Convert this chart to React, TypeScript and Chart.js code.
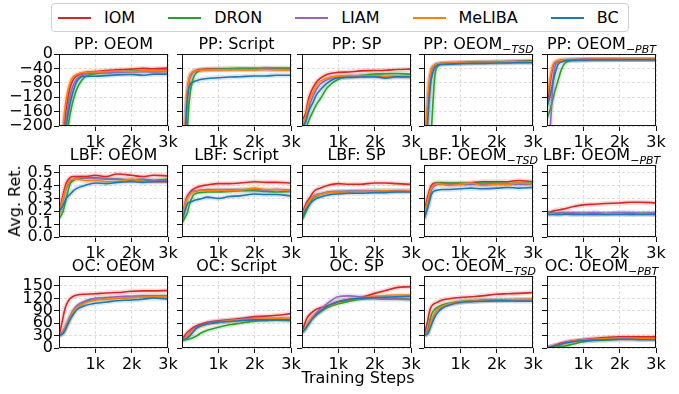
import React, { useEffect, useRef } from "react";
import { Chart, registerables } from "chart.js";
Chart.register(...registerables);

// ---------- data ----------
const steps = [0, 100, 150, 200, 300, 400, 500, 700, 1000, 1300, 1600, 2000, 2300, 2600, 3000];
const methods = ["IOM", "DRON", "LIAM", "MeLIBA", "BC"];
const colors = ["#d62728", "#2ca02c", "#9467bd", "#ff7f0e", "#1f77b4"];
const bandColors = ["rgba(214,39,40,0.17)", "rgba(44,160,44,0.17)", "rgba(148,103,189,0.17)", "rgba(255,127,14,0.17)", "rgba(31,119,180,0.17)"];
const envNames = ["PP", "LBF", "OC"];
const colNames = ["OEOM", "Script", "SP", "OEOM", "OEOM"];
const colSubs = ["", "", "", "TSD", "PBT"];
const xTicks = [1000, 2000, 3000];
const ppTicks = [-200, -160, -120, -80, -40, 0];
const lbfTicks = [0, 0.1, 0.2, 0.3, 0.4, 0.5];
const ocTicks = [0, 30, 60, 90, 120, 150];
const yRanges = [[-200, 0], [0, 0.56], [0, 174]];

// series order in each panel: IOM, DRON, LIAM, MeLIBA, BC
const ppOeom = [
  [-330, -235, -190, -150, -95, -70, -60, -52, -49, -46, -44, -42, -40, -41, -39],
  [-380, -320, -280, -240, -170, -125, -95, -65, -55, -52, -50, -48, -47, -45, -44],
  [-340, -265, -215, -180, -120, -84, -68, -56, -53, -52, -51, -50, -49, -50, -49],
  [-330, -215, -165, -125, -80, -62, -56, -51, -50, -49, -47, -49, -47, -46, -47],
  [-360, -290, -240, -200, -140, -100, -75, -62, -62, -60, -58, -57, -59, -56, -56],
];
const ppScript = [
  [-330, -190, -110, -70, -50, -45, -43, -42, -42, -41, -41, -42, -41, -42, -42],
  [-420, -300, -205, -130, -70, -52, -46, -43, -42, -41, -40, -40, -39, -39, -39],
  [-330, -195, -115, -72, -52, -47, -45, -44, -43, -43, -43, -43, -42, -43, -43],
  [-320, -180, -100, -65, -50, -46, -45, -44, -44, -44, -44, -44, -43, -44, -45],
  [-340, -200, -120, -90, -78, -74, -71, -68, -66, -64, -63, -61, -61, -59, -59],
];
const ppSp = [
  [-183, -165, -140, -118, -94, -78, -68, -56, -51, -50, -47, -46, -45, -43, -42],
  [-215, -205, -195, -182, -160, -140, -125, -93, -70, -63, -60, -56, -55, -54, -56],
  [-200, -185, -165, -145, -118, -98, -84, -71, -64, -63, -62, -63, -64, -64, -65],
  [-195, -175, -150, -130, -108, -88, -77, -66, -61, -60, -61, -60, -62, -61, -63],
  [-200, -190, -170, -155, -135, -113, -100, -80, -66, -65, -64, -63, -67, -63, -63],
];
const ppTsd = [
  [-300, -150, -80, -48, -31, -27, -26, -25, -24, -23, -23, -22, -21, -20, -19],
  [-450, -330, -290, -215, -60, -32, -27, -26, -25, -24, -23, -22, -22, -21, -20],
  [-300, -155, -85, -50, -32, -28, -27, -26, -25, -24, -24, -23, -23, -22, -22],
  [-280, -130, -70, -42, -30, -27, -26, -25, -25, -24, -23, -23, -22, -22, -22],
  [-330, -190, -115, -70, -38, -30, -29, -28, -27, -26, -26, -25, -25, -24, -24],
];
const ppPbt = [
  [-146, -70, -40, -26, -19, -17, -16, -16, -15, -15, -15, -15, -15, -15, -15],
  [-179, -150, -130, -110, -75, -42, -25, -18, -17, -16, -16, -15, -15, -15, -15],
  [-300, -190, -100, -45, -22, -18, -17, -16, -16, -15, -15, -15, -15, -15, -15],
  [-119, -60, -35, -24, -19, -17, -17, -16, -16, -15, -15, -15, -15, -15, -15],
  [-146, -110, -85, -62, -30, -22, -19, -17, -17, -16, -16, -16, -16, -16, -16],
];
const lbfOeom = [
  [0.19, 0.31, 0.37, 0.42, 0.46, 0.47, 0.47, 0.47, 0.48, 0.47, 0.49, 0.48, 0.47, 0.48, 0.475],
  [0.14, 0.19, 0.24, 0.3, 0.41, 0.44, 0.455, 0.46, 0.46, 0.455, 0.45, 0.44, 0.445, 0.44, 0.45],
  [0.17, 0.28, 0.33, 0.38, 0.43, 0.45, 0.46, 0.46, 0.455, 0.45, 0.45, 0.445, 0.45, 0.44, 0.44],
  [0.17, 0.29, 0.34, 0.39, 0.44, 0.45, 0.45, 0.44, 0.44, 0.43, 0.43, 0.45, 0.43, 0.43, 0.43],
  [0.2, 0.24, 0.27, 0.3, 0.33, 0.36, 0.38, 0.4, 0.42, 0.415, 0.425, 0.43, 0.425, 0.43, 0.43],
];
const lbfScript = [
  [0.14, 0.28, 0.32, 0.34, 0.37, 0.385, 0.395, 0.405, 0.415, 0.415, 0.42, 0.43, 0.425, 0.425, 0.42],
  [0.11, 0.16, 0.19, 0.25, 0.32, 0.34, 0.345, 0.35, 0.35, 0.355, 0.36, 0.36, 0.355, 0.35, 0.355],
  [0.15, 0.27, 0.31, 0.33, 0.355, 0.36, 0.365, 0.37, 0.37, 0.37, 0.37, 0.37, 0.365, 0.37, 0.365],
  [0.15, 0.27, 0.3, 0.32, 0.35, 0.355, 0.36, 0.36, 0.365, 0.36, 0.365, 0.38, 0.37, 0.37, 0.36],
  [0.13, 0.22, 0.26, 0.27, 0.28, 0.29, 0.295, 0.31, 0.3, 0.315, 0.32, 0.335, 0.33, 0.33, 0.32],
];
const lbfSp = [
  [0.18, 0.25, 0.28, 0.3, 0.345, 0.37, 0.38, 0.4, 0.415, 0.41, 0.41, 0.42, 0.42, 0.415, 0.41],
  [0.13, 0.19, 0.22, 0.25, 0.3, 0.32, 0.33, 0.345, 0.35, 0.355, 0.355, 0.36, 0.36, 0.36, 0.36],
  [0.16, 0.23, 0.26, 0.285, 0.315, 0.33, 0.335, 0.35, 0.355, 0.355, 0.36, 0.36, 0.355, 0.36, 0.36],
  [0.16, 0.23, 0.26, 0.28, 0.31, 0.325, 0.33, 0.345, 0.35, 0.35, 0.355, 0.355, 0.36, 0.355, 0.36],
  [0.15, 0.21, 0.23, 0.25, 0.28, 0.3, 0.31, 0.325, 0.335, 0.34, 0.34, 0.345, 0.345, 0.35, 0.35],
];
const lbfTsd = [
  [0.19, 0.31, 0.36, 0.4, 0.42, 0.42, 0.42, 0.415, 0.415, 0.42, 0.43, 0.43, 0.43, 0.44, 0.43],
  [0.14, 0.23, 0.3, 0.37, 0.41, 0.42, 0.42, 0.42, 0.42, 0.415, 0.42, 0.42, 0.415, 0.42, 0.415],
  [0.16, 0.27, 0.33, 0.37, 0.4, 0.41, 0.41, 0.41, 0.41, 0.41, 0.41, 0.415, 0.41, 0.41, 0.41],
  [0.17, 0.28, 0.34, 0.38, 0.41, 0.415, 0.41, 0.4, 0.41, 0.42, 0.4, 0.41, 0.41, 0.42, 0.41],
  [0.14, 0.23, 0.28, 0.33, 0.36, 0.365, 0.37, 0.37, 0.375, 0.38, 0.375, 0.38, 0.385, 0.38, 0.385],
];
const lbfPbt = [
  [0.19, 0.195, 0.2, 0.205, 0.21, 0.215, 0.22, 0.235, 0.25, 0.255, 0.26, 0.265, 0.27, 0.27, 0.265],
  [0.185, 0.185, 0.185, 0.185, 0.185, 0.18, 0.185, 0.185, 0.185, 0.185, 0.18, 0.185, 0.185, 0.185, 0.185],
  [0.185, 0.185, 0.19, 0.185, 0.185, 0.19, 0.185, 0.19, 0.185, 0.19, 0.185, 0.19, 0.19, 0.185, 0.19],
  [0.18, 0.18, 0.18, 0.18, 0.175, 0.18, 0.18, 0.175, 0.18, 0.175, 0.18, 0.18, 0.175, 0.18, 0.175],
  [0.175, 0.175, 0.175, 0.175, 0.175, 0.175, 0.18, 0.175, 0.175, 0.175, 0.175, 0.175, 0.175, 0.175, 0.175],
];
const ocOeom = [
  [30, 68, 90, 104, 119, 125, 128, 130, 131, 133, 134, 137, 138, 138, 139],
  [30, 36, 43, 52, 72, 88, 99, 110, 117, 119, 121, 122, 124, 124, 125],
  [30, 39, 46, 55, 76, 92, 103, 113, 120, 122, 124, 125, 126, 126, 126],
  [30, 36, 43, 52, 72, 88, 98, 108, 116, 118, 120, 122, 123, 124, 124],
  [30, 34, 40, 50, 68, 82, 93, 102, 108, 111, 114, 116, 118, 121, 118],
];
const ocScript = [
  [19.5, 33, 38, 42, 49, 54, 57, 62, 66, 68, 71, 76, 77, 79, 83],
  [19.5, 20, 21, 22, 25, 29, 35, 43, 50, 56, 60, 65, 66, 67, 66],
  [20, 26, 30, 35, 44, 50, 54, 60, 64, 67, 69, 72, 71, 72, 72],
  [20, 25, 29, 33, 42, 48, 52, 58, 62, 66, 68, 70, 70, 71, 71],
  [19.5, 22, 25, 28, 38, 48, 53, 58, 62, 64, 66, 68, 68, 68, 68],
];
const ocSp = [
  [39, 65, 74, 80, 88, 94, 97, 102, 112, 117, 121, 132, 139, 146, 148],
  [38, 48, 55, 62, 73, 80, 87, 98, 107, 113, 118, 120, 120, 120, 118],
  [38, 48, 55, 63, 75, 85, 93, 108, 124, 126, 124, 120, 118, 118, 117],
  [38, 50, 57, 65, 76, 82, 88, 100, 110, 116, 120, 125, 127, 128, 128],
  [38, 47, 54, 60, 72, 82, 88, 101, 112, 117, 120, 122, 123, 124, 125],
];
const ocTsd = [
  [31, 65, 88, 100, 108, 112, 116, 119, 122, 124, 126, 130, 131, 132, 134],
  [31, 42, 62, 80, 94, 100, 104, 108, 112, 114, 115, 116, 116, 117, 117],
  [31, 37, 50, 64, 84, 94, 100, 106, 111, 113, 115, 116, 116, 116, 117],
  [31, 37, 50, 65, 85, 95, 100, 106, 111, 113, 114, 115, 116, 117, 118],
  [31, 34, 44, 55, 75, 88, 96, 104, 110, 112, 113, 114, 114, 113, 113],
];
const ocPbt = [
  [0, 3, 4.5, 6, 9, 12, 14, 17, 20, 23, 25, 27, 27, 27, 27],
  [0, 1, 1.5, 2, 3, 4, 5, 9, 15, 18, 19, 21, 21, 22, 22],
  [0, 2.5, 3.5, 5, 7.5, 10, 13, 16, 19, 21, 22, 23, 23, 22, 22],
  [0, 2.5, 3.5, 5, 7, 9.5, 12, 16, 19, 21, 23, 24, 24, 23, 23],
  [0, 2.5, 3.5, 5, 7, 9.5, 12, 15, 18, 19, 20, 21, 21, 20, 20],
];

const panels = [
  [ppOeom, ppScript, ppSp, ppTsd, ppPbt],
  [lbfOeom, lbfScript, lbfSp, lbfTsd, lbfPbt],
  [ocOeom, ocScript, ocSp, ocTsd, ocPbt],
];
const rowTicks = [ppTicks, lbfTicks, ocTicks];
const rowFormat = [
  (v: number) => String(v).replace("-", "\u2212"),
  (v: number) => v.toFixed(1),
  (v: number) => String(v),
];

// ---------- layout ----------
const plotLefts = [59, 182, 302, 424, 547];
const plotTops = [54, 165, 276];
const PW = 109;
const PH = 72;
const YW = 56;
const PADT = 10;
const PADR = 14;
const XH = 28;
const FONT = "'DejaVu Sans', sans-serif";

Chart.defaults.font.family = FONT;
Chart.defaults.font.size = 16;
Chart.defaults.color = "#000";

const framePlugin = {
  id: "frame",
  afterDatasetsDraw(chart: any) {
    const { ctx, chartArea } = chart;
    ctx.save();
    ctx.strokeStyle = "#111";
    ctx.lineWidth = 1;
    ctx.setLineDash([]);
    ctx.strokeRect(
      Math.round(chartArea.left) + 0.5,
      Math.round(chartArea.top) + 0.5,
      Math.round(chartArea.right - chartArea.left) - 1,
      Math.round(chartArea.bottom - chartArea.top) - 1
    );
    ctx.restore();
  },
};

function gridOpts() {
  return {
    color: "#d6d6d6",
    lineWidth: 0.8,
    borderDash: [3, 2],
    tickColor: "#111",
    tickLength: 5,
    tickWidth: 1,
    tickBorderDash: [],
  };
}

function Panel({ row, col }: { row: number; col: number }) {
  const ref = useRef<HTMLCanvasElement>(null);
  useEffect(() => {
    const series = panels[row][col];
    const datasets: any[] = [];
    series.forEach((vals, i) => {
      const pts = steps.map((x, k) => ({ x, y: vals[k] }));
      datasets.push({
        label: methods[i] + " band",
        data: pts,
        borderColor: bandColors[i],
        borderWidth: 5,
        pointRadius: 0,
        cubicInterpolationMode: "monotone",
        clip: 0,
        order: 14 - i,
      });
      datasets.push({
        label: methods[i],
        data: pts,
        borderColor: colors[i],
        borderWidth: 1.6,
        pointRadius: 0,
        cubicInterpolationMode: "monotone",
        clip: 0,
        order: 4 - i,
      });
    });
    const ticks = rowTicks[row];
    const fmt = rowFormat[row];
    const chart = new Chart(ref.current as HTMLCanvasElement, {
      type: "line",
      data: { datasets },
      plugins: [framePlugin],
      options: {
        animation: false,
        responsive: false,
        events: [],
        layout: { padding: { left: 0, top: PADT, right: PADR, bottom: 0 } },
        plugins: { legend: { display: false }, tooltip: { enabled: false }, title: { display: false } },
        scales: {
          x: {
            type: "linear",
            min: 0,
            max: 3000,
            afterBuildTicks: (s: any) => {
              s.ticks = xTicks.map((v) => ({ value: v }));
            },
            afterFit: (s: any) => {
              s.height = XH;
              s.paddingLeft = 0;
              s.paddingRight = 0;
            },
            ticks: {
              autoSkip: false,
              maxRotation: 0,
              minRotation: 0,
              padding: 2,
              color: "#000",
              font: { size: 16, family: FONT },
              callback: (v: any) => Number(v) / 1000 + "k",
            },
            grid: gridOpts(),
            border: { display: false, dash: [3, 2] },
          },
          y: {
            type: "linear",
            min: yRanges[row][0],
            max: yRanges[row][1],
            afterBuildTicks: (s: any) => {
              s.ticks = ticks.map((v) => ({ value: v }));
            },
            afterFit: (s: any) => {
              s.width = YW;
              s.paddingTop = 0;
              s.paddingBottom = 0;
            },
            ticks: {
              display: col === 0,
              autoSkip: false,
              padding: 1,
              color: "#000",
              font: { size: 16, family: FONT },
              callback: (v: any) => fmt(Number(v)),
            },
            grid: gridOpts(),
            border: { display: false, dash: [3, 2] },
          },
        },
      } as any,
    });
    return () => chart.destroy();
  }, [row, col]);
  const w = YW + PW + PADR;
  const h = PADT + PH + XH;
  return (
    <canvas
      ref={ref}
      width={w}
      height={h}
      style={{ position: "absolute", left: plotLefts[col] - YW, top: plotTops[row] - PADT, width: w, height: h }}
    />
  );
}

function Title({ row, col }: { row: number; col: number }) {
  return (
    <div
      style={{
        position: "absolute",
        left: plotLefts[col] - 30,
        width: PW + 60,
        top: plotTops[row] - 18,
        lineHeight: "16px",
        fontSize: 16,
        textAlign: "center",
        whiteSpace: "nowrap",
      }}
    >
      {envNames[row]}: {colNames[col]}
      {colSubs[col] ? (
        <span style={{ fontSize: 11, position: "relative", top: 4 }}>
          {"\u2212"}
          <i>{colSubs[col]}</i>
        </span>
      ) : null}
    </div>
  );
}

export default function App() {
  const cells: React.ReactNode[] = [];
  for (let r = 0; r < 3; r++) {
    for (let c = 0; c < 5; c++) {
      cells.push(<Panel key={`p${r}${c}`} row={r} col={c} />);
      cells.push(<Title key={`t${r}${c}`} row={r} col={c} />);
    }
  }
  return (
    <div
      style={{
        position: "absolute",
        left: 0,
        top: 0,
        width: 679,
        height: 394,
        background: "#fff",
        fontFamily: FONT,
        color: "#000",
        overflow: "hidden",
      }}
    >
      <div
        style={{
          position: "absolute",
          left: 51,
          top: 3,
          width: 578,
          height: 29,
          border: "1px solid #d0d0d0",
          borderRadius: 4,
          boxSizing: "border-box",
          display: "flex",
          alignItems: "center",
          paddingLeft: 6,
          fontSize: 16,
          whiteSpace: "nowrap",
        }}
      >
        {methods.map((m, i) => (
          <div key={m} style={{ display: "flex", alignItems: "center", marginRight: i < 4 ? 33 : 0 }}>
            <span style={{ display: "inline-block", width: 33, height: 0, borderTop: `2px solid ${colors[i]}`, marginRight: 13 }} />
            <span>{m}</span>
          </div>
        ))}
      </div>
      {cells}
      <div
        style={{
          position: "absolute",
          left: 15,
          top: 201,
          transform: "translate(-50%, -50%) rotate(-90deg)",
          fontSize: 16,
          lineHeight: "16px",
          whiteSpace: "nowrap",
        }}
      >
        Avg. Ret.
      </div>
      <div
        style={{
          position: "absolute",
          left: 258,
          width: 200,
          top: 370,
          fontSize: 16,
          lineHeight: "16px",
          textAlign: "center",
          whiteSpace: "nowrap",
        }}
      >
        Training Steps
      </div>
    </div>
  );
}
